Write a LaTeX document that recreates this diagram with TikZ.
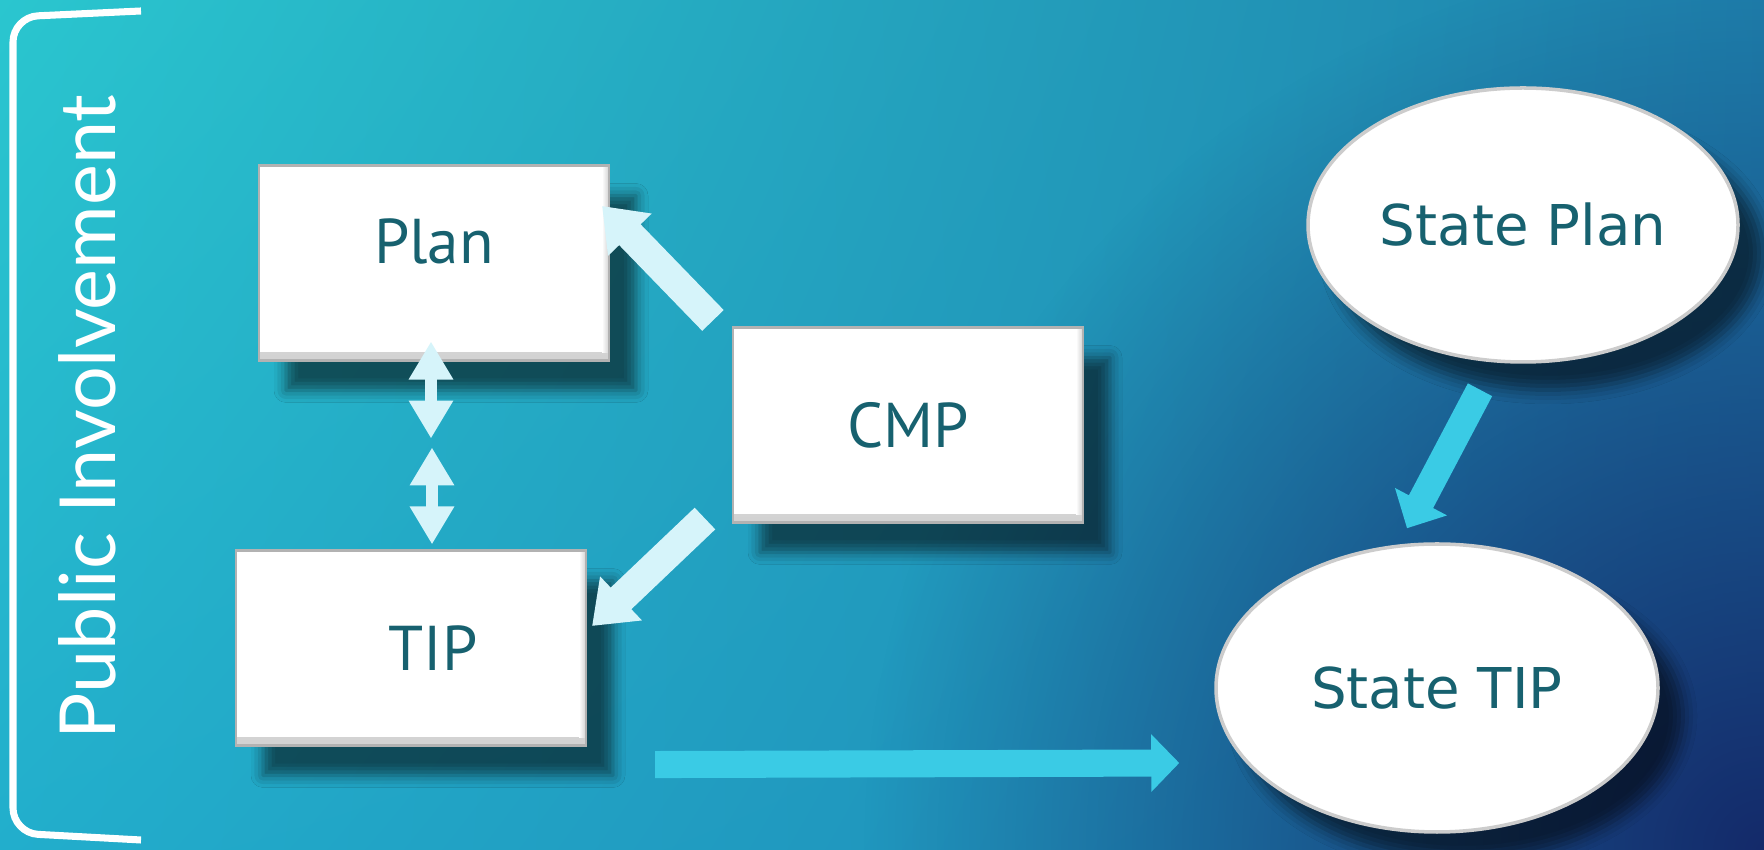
\documentclass[tikz,border=0pt]{standalone}
\usepackage{fontspec}
\usetikzlibrary{shapes.geometric,arrows.meta,shadows.blur,shadings,fadings}
\newfontfamily\boxfont{PT Sans}
\newfontfamily\ovalfont{DejaVu Sans}
\newfontfamily\sidefont{Lato}
\definecolor{labeltext}{RGB}{23,97,111}
\definecolor{paleblue}{RGB}{214,244,250}
\definecolor{brightcyan}{RGB}{58,203,229}
\definecolor{bgtl}{RGB}{42,198,207}
\definecolor{bgtr}{RGB}{30,128,172}
\definecolor{bgbl}{RGB}{34,174,204}
\definecolor{bgbr}{RGB}{30,128,176}
\definecolor{bgdeep}{RGB}{20,42,106}
\tikzfading[name=cornerfade, inner color=transparent!0, outer color=transparent!100]

\begin{document}
\begin{tikzpicture}[
  plainbox/.style={rectangle, fill=white, draw=black!30, line width=0.6pt,
    minimum width=3.5cm, minimum height=1.95cm, inner sep=0pt,
    font=\boxfont\fontsize{18}{20}\selectfont, text=labeltext,
    path picture={
      \shade[top color=white, bottom color=black!18]
        ([yshift=0.08cm]path picture bounding box.south west) rectangle (path picture bounding box.south east);
      \shade[left color=white, right color=black!18]
        ([xshift=-0.07cm]path picture bounding box.north east) rectangle ([yshift=0.08cm]path picture bounding box.south east);},
    blur shadow={shadow xshift=0.27cm, shadow yshift=-0.3cm,
      shadow blur radius=0.12cm, shadow opacity=55}},
  oval/.style={ellipse, fill=white, draw=black!20, line width=1pt, inner sep=0pt,
    font=\ovalfont\fontsize{16}{19}\selectfont, text=labeltext,
    blur shadow={shadow xshift=0.25cm, shadow yshift=-0.28cm,
      shadow blur radius=0.14cm, shadow opacity=55}},
  palearrow/.style={draw=paleblue, line width=8.5pt,
    -{Triangle[length=0.4cm,width=0.58cm]}},
  twoway/.style={draw=paleblue, line width=3.6pt,
    {Triangle[length=0.38cm,width=0.42cm]}-{Triangle[length=0.38cm,width=0.42cm]}},
  cyanarrow/.style={draw=brightcyan, line width=7.8pt,
    -{Triangle[length=0.3cm,width=0.57cm]}}
]
\useasboundingbox (0,0) rectangle (17.64,-8.5);
\shade[upper left=bgtl, upper right=bgtr, lower left=bgbl, lower right=bgbr]
  (0,0) rectangle (17.64,-8.5);
\begin{scope}
\clip (0,0) rectangle (17.64,-8.5);
\fill[bgdeep, path fading=cornerfade] (17.64,-8.5) circle (9cm);
\end{scope}

% bracket and side title
\draw[white, line width=2pt, rounded corners=0.25cm]
  (1.41,-0.11) -- (0.13,-0.17) -- (0.13,-8.33) -- (1.41,-8.40);
\node[rotate=90, text=white, font=\sidefont\fontsize{22}{26}\selectfont]
  (side) at (0.87,-4.17) {Public Involvement};

% boxes
\node[plainbox, text height=0.44cm, text depth=0.42cm] (plan) at (4.34,-2.63) {Plan};
\node[plainbox] (cmp) at (9.08,-4.25) {CMP};
\node[plainbox] (tip) at (4.11,-6.48) {\hspace*{0.44cm}TIP};

% ovals
\node[oval, minimum width=4.30cm, minimum height=2.74cm] (stateplan) at (15.23,-2.25) {State Plan};
\node[oval, minimum width=4.42cm, minimum height=2.88cm] (statetip) at (14.37,-6.88) {State TIP};

% arrows
\draw[palearrow] ([shift={(-0.19,0.06)}]cmp.north west) -- ([shift={(-0.08,0.57)}]plan.east);
\draw[palearrow] ([shift={(-0.27,0.05)}]cmp.south west) -- ([shift={(0.05,0.22)}]tip.east);
\draw[twoway] ([shift={(-0.03,0.20)}]plan.south) -- ([shift={(-0.03,-0.77)}]plan.south);
\draw[twoway] ([shift={(0.21,1.02)}]tip.north) -- ([shift={(0.21,0.05)}]tip.north);
\draw[cyanarrow] ([shift={(-0.43,-0.26)}]stateplan.south) -- ([shift={(-0.30,0.14)}]statetip.north);
\draw[cyanarrow, line width=7.7pt, -{Triangle[length=0.28cm,width=0.56cm]}]
  ([shift={(0.68,-0.18)}]tip.south east) -- ([shift={(-0.35,-0.75)}]statetip.west);
\end{tikzpicture}
\end{document}
